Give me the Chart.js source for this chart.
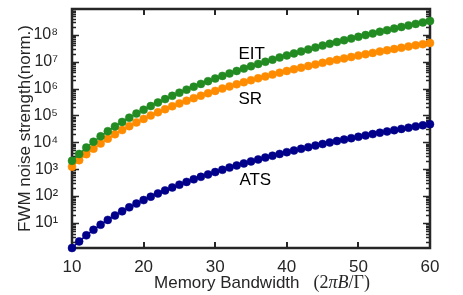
<!DOCTYPE html>
<html>
<head>
<meta charset="utf-8">
<script src="https://cdn.jsdelivr.net/npm/chart.js@4.4.1/dist/chart.umd.min.js"></script>
<style>
  html, body { margin: 0; padding: 0; background: #fff; }
  #wrap { width: 463px; height: 295px; }
</style>
</head>
<body>
<div id="wrap"><canvas id="chart" width="463" height="295"></canvas></div>
<script>
// memory bandwidth (2*pi*B/Gamma), one point per unit
const bandwidth = [10,11,12,13,14,15,16,17,18,19,20,21,22,23,24,25,26,27,28,29,30,31,32,33,34,35,
  36,37,38,39,40,41,42,43,44,45,46,47,48,49,50,51,52,53,54,55,56,57,58,59,60]

// FWM noise strength (normalised)
const eit = [2.04e3,3.68e3,6.35e3,1.05e4,1.67e4,2.59e4,3.90e4,5.72e4,8.26e4,1.17e5,
  1.63e5,2.23e5,3.03e5,4.04e5,5.35e5,7.01e5,9.09e5,1.17e6,1.49e6,1.88e6,
  2.36e6,2.95e6,3.66e6,4.51e6,5.54e6,6.75e6,8.20e6,9.90e6,1.19e7,1.43e7,
  1.71e7,2.03e7,2.41e7,2.85e7,3.36e7,3.95e7,4.62e7,5.40e7,6.26e7,7.26e7,
  8.42e7,9.74e7,1.12e8,1.30e8,1.48e8,1.70e8,1.95e8,2.23e8,2.54e8,2.89e8,3.27e8]

const sr = [1.23e3,2.16e3,3.62e3,5.81e3,9.02e3,1.36e4,1.99e4,2.84e4,3.99e4,5.50e4,
  7.43e4,9.93e4,1.31e5,1.70e5,2.19e5,2.79e5,3.52e5,4.40e5,5.45e5,6.70e5,
  8.18e5,9.95e5,1.20e6,1.44e6,1.72e6,2.04e6,2.41e6,2.83e6,3.32e6,3.87e6,
  4.50e6,5.20e6,6.00e6,6.90e6,7.91e6,9.04e6,1.03e7,1.17e7,1.32e7,1.49e7,
  1.68e7,1.89e7,2.12e7,2.38e7,2.65e7,2.96e7,3.30e7,3.66e7,4.06e7,4.49e7,4.95e7]

const ats = [1.17,2.06,3.46,5.55,8.61,13.0,19.0,27.1,38.1,52.5,
  71.0,94.8,125,162,209,266,336,420,520,640,
  781,950,1146,1375,1643,1948,2302,2703,3171,3696,
  4298,4966,5730,6590,7554,8633,9837,11170,12610,14230,
  16040,18050,20250,22730,25310,28270,31520,34950,38770,42880,47270]

const xTicks = [10,20,30,40,50,60]
const yDecades = [1,2,3,4,5,6,7,8]
const sup = ['\u2070','\u00b9','\u00b2','\u00b3','\u2074','\u2075','\u2076','\u2077','\u2078']

const SANS = "'Liberation Sans', Arial, Helvetica, sans-serif"
const SERIF = "'Liberation Serif', 'DejaVu Serif', serif"
const INK = '#262626'

const pts = arr => bandwidth.map((b, i) => ({x: b, y: arr[i]}))

function series(label, data, color) {
  return {
    label, data: pts(data),
    borderColor: color, backgroundColor: color,
    pointBackgroundColor: color, pointBorderColor: color,
    pointRadius: 4, pointBorderWidth: 0.5,
    borderWidth: 1.5, showLine: true, clip: false
  }
}

// box with inward ticks, MATLAB style
const frame = {
  id: 'frame',
  beforeDatasetsDraw(chart) {
    const {ctx, chartArea: a, scales: {x, y}} = chart
    ctx.save()
    ctx.strokeStyle = INK
    ctx.lineWidth = 2
    ctx.beginPath()
    xTicks.forEach(v => {
      const px = Math.round(x.getPixelForValue(v))
      ctx.moveTo(px, a.bottom); ctx.lineTo(px, a.bottom - 6)
      ctx.moveTo(px, a.top); ctx.lineTo(px, a.top + 6)
    })
    ctx.stroke()
    ctx.lineWidth = 1.5
    ctx.beginPath()
    for (let e = 0; e <= 8; e++) {
      for (let m = 1; m <= 9; m++) {
        const v = m * Math.pow(10, e)
        if (v < y.min || v > y.max) continue
        const py = Math.round(y.getPixelForValue(v)) + 0.5
        const len = m === 1 ? 7 : 4
        ctx.moveTo(a.left, py); ctx.lineTo(a.left + len, py)
        ctx.moveTo(a.right, py); ctx.lineTo(a.right - len, py)
      }
    }
    ctx.stroke()
    ctx.lineWidth = 2.5
    ctx.strokeRect(a.left, a.top, a.right - a.left, a.bottom - a.top)
    ctx.restore()
  },
  afterDatasetsDraw(chart) {
    const {ctx, chartArea: a, scales: {x, y}} = chart
    ctx.save()
    ctx.fillStyle = '#000'
    ctx.textAlign = 'center'
    ctx.textBaseline = 'middle'
    ctx.font = '17px ' + SANS
    ctx.fillText('EIT', x.getPixelForValue(35.1), y.getPixelForValue(1.9e7))
    ctx.fillText('SR', x.getPixelForValue(34.9), y.getPixelForValue(4.1e5))
    ctx.fillText('ATS', x.getPixelForValue(35.6), y.getPixelForValue(400))

    // x title, latex part in serif with its own gap
    const parts = [
      ['Memory Bandwidth', '17px ' + SANS, 14],
      ['(2', '18px ' + SERIF, 0],
      ['\u03c0B', 'italic 18px ' + SERIF, 0],
      ['/\u0393)', '18px ' + SERIF, 0]
    ]
    let w = 0
    parts.forEach(p => { ctx.font = p[1]; w += ctx.measureText(p[0]).width + p[2] })
    let cx = (a.left + a.right) / 2 + 11 - w / 2
    ctx.textAlign = 'left'
    ctx.fillStyle = INK
    parts.forEach(p => {
      ctx.font = p[1]
      ctx.fillText(p[0], cx, 283)
      cx += ctx.measureText(p[0]).width + p[2]
    })
    ctx.restore()
  }
}

new Chart(document.getElementById('chart'), {
  type: 'scatter',
  data: {
    datasets: [
      series('EIT', eit, '#228B22'),
      series('SR', sr, '#FF8C00'),
      series('ATS', ats, '#00008B')
    ]
  },
  options: {
    responsive: false,
    animation: false,
    layout: {padding: {left: 0, right: 33, top: 9, bottom: 0}},
    plugins: {legend: {display: false}, tooltip: {enabled: false}},
    scales: {
      x: {
        type: 'linear', min: 10, max: 60,
        afterBuildTicks: s => { s.ticks = xTicks.map(v => ({value: v})) },
        afterFit: s => { s.height = 47; s.paddingLeft = 0; s.paddingRight = 0 },
        grid: {display: false, drawTicks: false},
        border: {display: false},
        ticks: {color: INK, font: {family: SANS, size: 17}, padding: 9, maxRotation: 0}
      },
      y: {
        type: 'logarithmic', min: 1.17, max: 9.1e8,
        afterBuildTicks: s => { s.ticks = yDecades.map(e => ({value: Math.pow(10, e)})) },
        afterFit: s => { s.width = 72; s.paddingTop = 0; s.paddingBottom = 0 },
        grid: {display: false, drawTicks: false},
        border: {display: false},
        ticks: {
          color: INK, font: {family: SANS, size: 16}, padding: 14,
          callback: v => '10' + sup[Math.round(Math.log10(v))]
        },
        title: {
          display: true, text: 'FWM noise strength(norm.)',
          color: INK, font: {family: SANS, size: 17}, padding: {top: 15}
        }
      }
    }
  },
  plugins: [frame]
})
</script>
</body>
</html>
